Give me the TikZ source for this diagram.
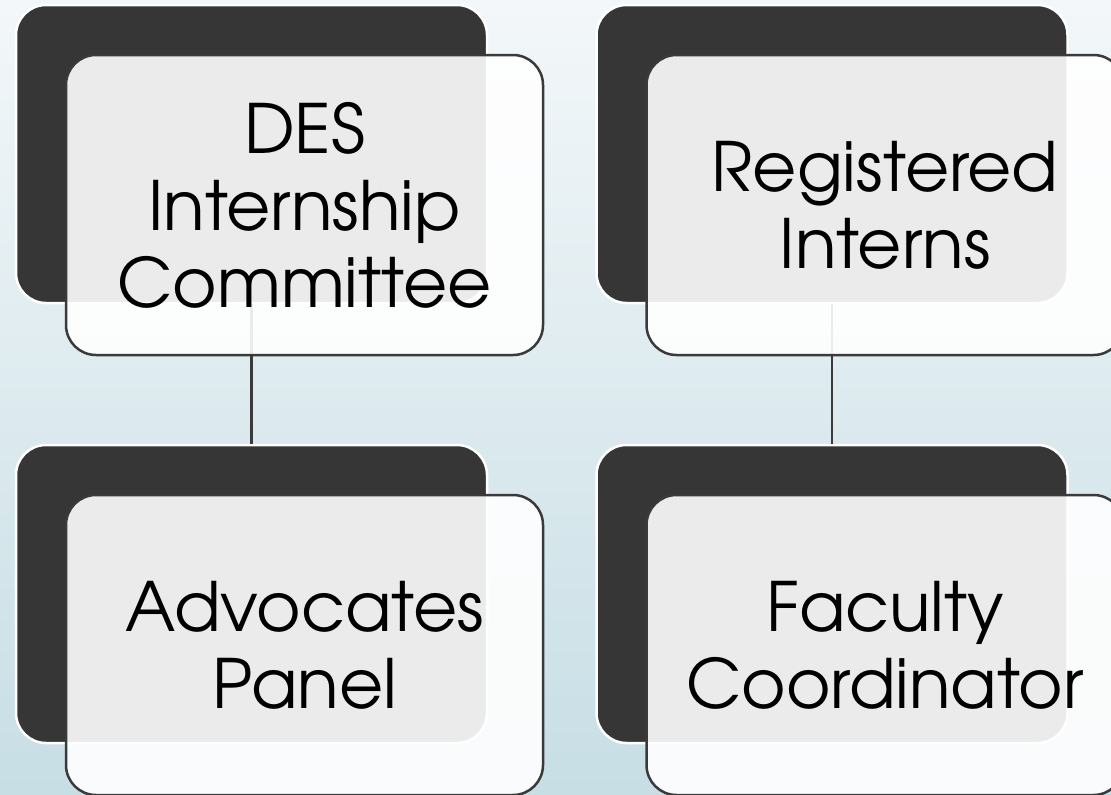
\documentclass[tikz,border=0pt]{standalone}
\usepackage{fontspec}
\setmainfont{texgyreadventor-regular.otf}
\usetikzlibrary{positioning}
\definecolor{bgtop}{HTML}{F3F7F9}
\definecolor{bgbottom}{HTML}{C7DEE5}
\definecolor{darkbox}{HTML}{363636}
\definecolor{edgecolor}{HTML}{3A3A3A}
\tikzset{
  backbox/.style={draw=white, line width=2.5pt, fill=darkbox, rounded corners=30pt,
    minimum width=471pt, minimum height=298pt},
  frontbox/.style={draw=edgecolor, line width=2.5pt, fill=white, fill opacity=0.9,
    text opacity=1, rounded corners=30pt, minimum width=477pt, minimum height=300pt,
    align=center, font=\fontsize{68}{77}\selectfont},
  link/.style={draw=edgecolor, line width=2.5pt}
}

\begin{document}
\begin{tikzpicture}[x=1pt, y=-1pt]
  \useasboundingbox (0,0) rectangle (1111,795);
  \clip (0,0) rectangle (1111,795);
  \shade[top color=bgtop, bottom color=bgbottom] (0,0) rectangle (1111,795);

  % back boxes
  \foreach \nm/\cx/\cy in {dkTL/251.5/154, dkTR/832/154, dkBL/251.5/594, dkBR/832/594}
    \node[backbox] (\nm) at (\cx,\cy) {};

  % connectors
  \draw[link] (dkTL.south) -- (dkBL.north);
  \draw[link] (dkTR.south) -- (dkBR.north);

  % front boxes
  \node[frontbox, below right=50pt and 50pt of dkTL.north west] (committee) {DES\\Internship\\Committee};
  \node[frontbox, below right=50pt and 50pt of dkTR.north west] (interns) {Registered\\Interns};
  \node[frontbox, below right=50pt and 50pt of dkBL.north west] (panel) {Advocates\\Panel};
  \node[frontbox, below right=50pt and 50pt of dkBR.north west] (coordinator) {Faculty\\Coordinator};
\end{tikzpicture}
\end{document}
